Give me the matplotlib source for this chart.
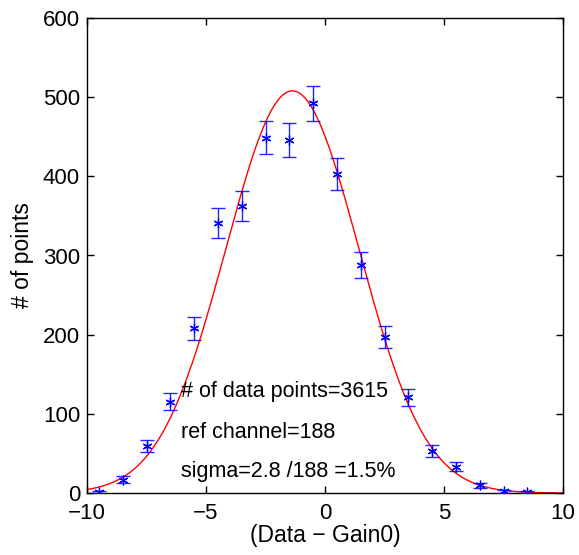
import numpy as np
import matplotlib
matplotlib.use("Agg")
import matplotlib.pyplot as plt

plt.rcParams['font.family'] = ['Liberation Sans', 'DejaVu Sans']

# Histogram bin centres and counts
bin_centers = [-9.5, -8.5, -7.5, -6.5, -5.5, -4.5, -3.5, -2.5, -1.5, -0.5,
               0.5, 1.5, 2.5, 3.5, 4.5, 5.5, 6.5, 7.5, 8.5]
counts = [1, 17, 59, 115, 208, 341, 363, 449, 446, 492,
          403, 288, 197, 121, 53, 33, 10, 2, 1]

# Gaussian fit parameters
fit_amp = 508.0
fit_mu = -1.37
fit_sigma = 2.8

xticks = [-10, -5, 0, 5, 10]
yticks = [0, 100, 200, 300, 400, 500, 600]

annotations = ["# of data points=3615", "ref channel=188", "sigma=2.8 /188 =1.5%"]
annot_y = [128, 77, 27]

fig = plt.figure(figsize=(5.79, 5.55), dpi=100)
ax = fig.add_axes([87/579, 1 - 493/555, (563-87)/579, (493-18)/555])

x = np.array(bin_centers, dtype=float)
y = np.array(counts, dtype=float)
err = np.sqrt(y)

xf = np.linspace(-10, 10, 400)
yf = fit_amp * np.exp(-(xf - fit_mu) ** 2 / (2 * fit_sigma ** 2))
ax.plot(xf, yf, color='red', lw=1.0, zorder=2)

ax.errorbar(x, y, yerr=err, fmt='none', ecolor='blue', elinewidth=1.0,
            capsize=5, capthick=1.0, zorder=3, alpha=0.85)
ax.plot(x, y, linestyle='none', marker=(6, 2, 0), markersize=7,
        markeredgecolor='blue', markerfacecolor='blue', markeredgewidth=0.9, zorder=4)

for t, yy in zip(annotations, annot_y):
    ax.text(-6.05, yy, t, fontsize=15.5, va='center', ha='left')

ax.set_xlim(-10, 10)
ax.set_ylim(0, 600)
ax.set_xticks(xticks)
ax.set_yticks(yticks)
ax.set_xticklabels([str(v).replace('-', '\u2212') for v in xticks])
ax.tick_params(direction='in', length=5, width=1, labelsize=16,
               top=True, right=True)
ax.tick_params(axis='x', pad=7)
ax.tick_params(axis='y', pad=5)
for s in ax.spines.values():
    s.set_linewidth(1.0)
ax.set_xlabel('(Data \u2212 Gain0)', fontsize=16.5, labelpad=0)
ax.set_ylabel('# of points', fontsize=16.5, labelpad=6)

fig.savefig('out.png', dpi=100)
